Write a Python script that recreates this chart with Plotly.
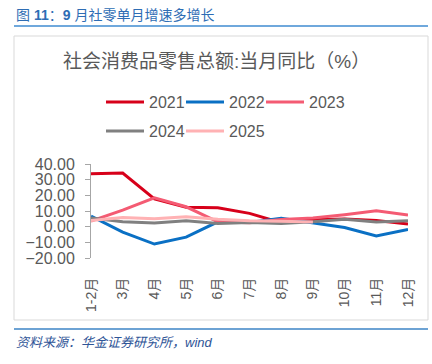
import plotly.graph_objects as go

months = ["1-2月", "3月", "4月", "5月", "6月", "7月", "8月", "9月", "10月", "11月", "12月"]
y2021 = [33.8, 34.2, 17.7, 12.4, 12.1, 8.5, 2.5, 4.4, 4.9, 3.9, 1.7]
y2022 = [6.7, -3.5, -11.1, -6.7, 3.1, 2.7, 5.4, 2.5, -0.5, -5.9, -1.8]
y2023 = [3.5, 10.6, 18.4, 12.7, 3.1, 2.5, 4.6, 5.5, 7.6, 10.1, 7.4]
y2024 = [5.5, 3.1, 2.3, 3.7, 2.0, 2.7, 2.1, 3.2, 4.8, 3.0, 3.7]
y2025 = [4.0, 5.9, 5.1, 6.4, 4.8, 3.7, 3.4, 3.0]
y_ticks = [-20, -10, 0, 10, 20, 30, 40]

series = [
    ("2021", y2021, "#D7001A"),
    ("2022", y2022, "#0A70C4"),
    ("2023", y2023, "#F45B73"),
    ("2024", y2024, "#808080"),
    ("2025", y2025, "#FFB2B4"),
]
# legend slot (pixel x of line start, pixel y of row centre)
legend_pos = [(105, 102), (185, 102), (265, 102), (105, 131), (185, 131)]

FONT = "Liberation Sans, Arial, Noto Sans CJK SC"
GRAY = "#595959"

W, H = 432, 364
L, R, T, B = 91, 408, 164, 258  # plot area in pixels

def px(x):
    return (x - L) / (R - L)

def py(y):
    return (B - y) / (B - T)

def cx(x):
    return x / W

def cy(y):
    return (H - y) / H

fig = go.Figure()
legends = {}
for i, (name, vals, col) in enumerate(series):
    lg = "legend" if i == 0 else f"legend{i + 1}"
    fig.add_trace(go.Scatter(
        x=list(range(len(vals))), y=vals, name=name, mode="lines",
        line=dict(color=col, width=3), xaxis="x", yaxis="y", legend=lg,
    ))
    lx, ly = legend_pos[i]
    legends[lg] = dict(
        orientation="h", xanchor="left", yanchor="middle",
        xref="container", yref="container", x=cx(lx - 4), y=cy(ly),
        itemwidth=38, font=dict(size=16, color=GRAY, family=FONT),
        bgcolor="rgba(0,0,0,0)",
    )

fig.update_layout(
    width=W, height=H,
    margin=dict(l=L, r=W - R, t=T, b=H - B, autoexpand=False),
    paper_bgcolor="white", plot_bgcolor="white",
    font=dict(family=FONT, color=GRAY),
    showlegend=True,
    xaxis=dict(
        range=[0, 10], tickmode="array", tickvals=list(range(len(months))),
        ticktext=months, tickangle=-90, showline=False, ticks="",
        zeroline=False, showgrid=False, ticklabelstandoff=16, automargin=False,
        tickfont=dict(size=14, color=GRAY, family=FONT),
    ),
    xaxis2=dict(
        overlaying="x", anchor="free", position=1 / 3, range=[0, 10],
        tickmode="array", tickvals=list(range(len(months))),
        showticklabels=False, showline=True, linecolor="#404040", linewidth=1,
        ticks="outside", ticklen=5, tickcolor="#404040", showgrid=False,
        zeroline=False, layer="below traces", automargin=False,
    ),
    yaxis=dict(
        range=[-20, 40], tickmode="array", tickvals=y_ticks,
        tickformat=".2f", showline=True, linecolor="#A6A6A6", linewidth=1,
        ticks="outside", ticklen=5, tickcolor="#A6A6A6", automargin=False,
        showgrid=False, zeroline=False, ticklabelstandoff=7,
        tickfont=dict(size=16, color=GRAY, family=FONT),
    ),
    **legends,
)

shapes = [
    dict(type="line", xref="paper", yref="paper", x0=px(14), x1=px(428), y0=py(26), y1=py(26),
         line=dict(color="#6FA8DC", width=2)),
    dict(type="rect", xref="paper", yref="paper", x0=px(14), x1=px(428), y0=py(320), y1=py(36),
         line=dict(color="#D9D9D9", width=1), layer="below"),
    dict(type="line", xref="paper", yref="paper", x0=px(14), x1=px(428), y0=py(329), y1=py(329),
         line=dict(color="#3D85C6", width=1.5)),
]
fig.update_layout(shapes=shapes)

fig.add_annotation(
    text="图 <b>11</b>：<b>9</b> 月社零单月增速多增长", xref="paper", yref="paper",
    x=px(14), y=py(15), xanchor="left", yanchor="middle", showarrow=False,
    font=dict(size=14, color="#2E6DB4", family=FONT),
)
fig.add_annotation(
    text="社会消费品零售总额:当月同比（%）", xref="paper", yref="paper",
    x=px(216), y=py(62), xanchor="center", yanchor="middle", showarrow=False,
    font=dict(size=19, color=GRAY, family=FONT),
)
fig.add_annotation(
    text="<i>资料来源：华金证券研究所，wind</i>", xref="paper", yref="paper",
    x=px(14), y=py(342), xanchor="left", yanchor="middle", showarrow=False,
    font=dict(size=13, color="#2F5597", family=FONT),
)

fig.write_html("out.html", config={"displayModeBar": False},
               post_script="document.body.style.margin='0';")
